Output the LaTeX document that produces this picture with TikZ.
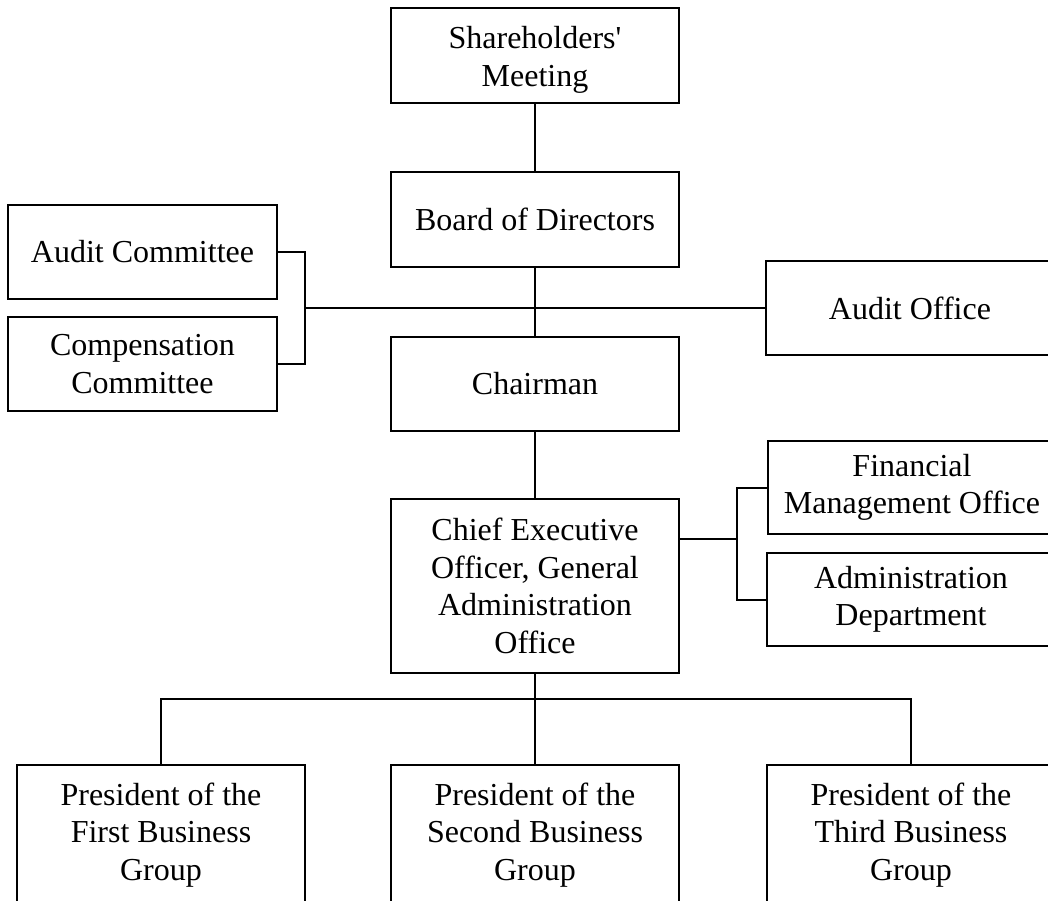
\documentclass[tikz,border=0pt]{standalone}
\usepackage{fontspec}
\setmainfont{Liberation Serif}
\usetikzlibrary{calc}
\begin{document}
\begin{tikzpicture}[x=1pt,y=-1pt,
  box/.style={draw, line width=2pt, inner sep=0pt, minimum width=288pt, minimum height=94pt, align=center, font=\fontsize{32}{37.5}\selectfont},
  txt/.style={inner sep=0pt, align=center, font=\fontsize{32}{37.5}\selectfont},
  conn/.style={line width=2pt}]
\fill[white] (0,0) rectangle (1048,900);
\path[use as bounding box, clip] (0,0) rectangle (1048,900);
% nodes
\node[box, minimum height=95pt] (sh) at (535,55.5) {};
\node[txt] (shtxt) at (535,60) {Shareholders\textquotesingle\\Meeting};
\node[box, minimum height=95pt] (bd) at (535,219.5) {Board of Directors};
\node[box, minimum width=269pt] (ac) at (142.5,252) {Audit Committee};
\node[box, minimum width=269pt] (cc) at (142.5,364) {Compensation\\Committee};
\node[box] (ao) at (910,308) {Audit Office};
\node[box] (ch) at (535,384) {Chairman};
\node[box, minimum height=174pt] (ceo) at (535,586) {Chief Executive\\Officer, General\\Administration\\Office};
\node[box, minimum height=93pt] (fm) at (912,487.5) {Financial\\Management Office};
\node[box, minimum height=93pt] (ad) at (911,599.5) {Administration\\Department};
\node[box, minimum height=140pt] (p1) at (161,835) {President of the\\First Business\\Group};
\node[box, minimum height=140pt] (p2) at (535,835) {President of the\\Second Business\\Group};
\node[box, minimum height=140pt] (p3) at (911,835) {President of the\\Third Business\\Group};
% connectors
\draw[conn] (sh.south) -- (bd.north);
\draw[conn] (bd.south) -- (ch.north);
\coordinate (lb) at (305,308);
\draw[conn] (ac.east) -| (lb) |- (cc.east);
\draw[conn] (lb) -- (ao.west);
\draw[conn] (ch.south) -- (ceo.north);
\coordinate (ceoe) at ($(ceo.north east)+(0,41)$);
\draw[conn] (ceoe) -- ++(57,0) coordinate (rb);
\draw[conn] (fm.west) -| (rb) |- (ad.west);
\draw[conn] (ceo.south) -- (p2.north);
\coordinate (bus) at ($(ceo.south)+(0,25)$);
\draw[conn] (p1.north) |- (bus) -| (p3.north);
\end{tikzpicture}
\end{document}
